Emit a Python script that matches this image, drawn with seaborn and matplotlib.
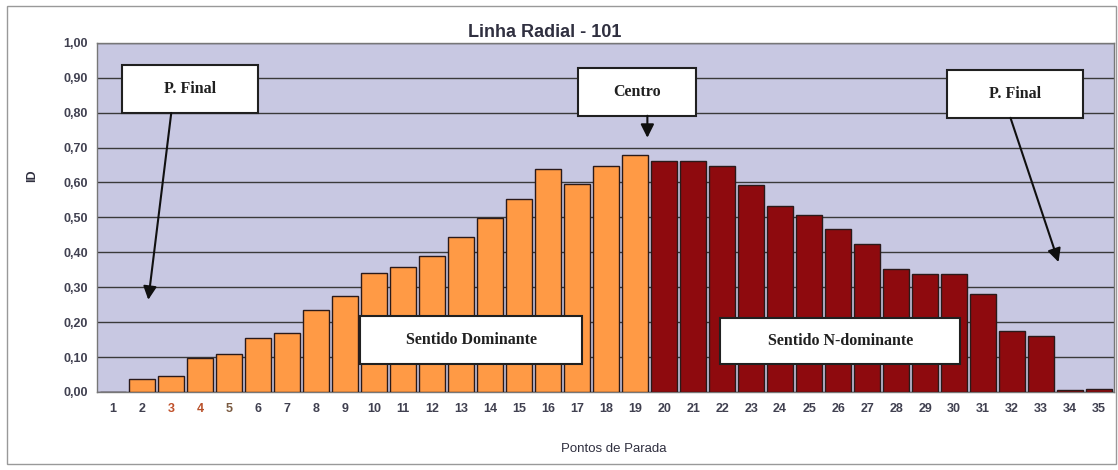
import matplotlib
matplotlib.use('Agg')
import matplotlib.pyplot as plt
import matplotlib.patches as patches
import pandas as pd
import seaborn as sns

# Pontos de parada e indice ID
pontos = [str(i) for i in range(1, 36)]
id_valores = [0.00, 0.036, 0.046, 0.098, 0.109, 0.155, 0.168, 0.235, 0.275, 0.341,
              0.358, 0.390, 0.445, 0.498, 0.552, 0.638, 0.597, 0.647, 0.678, 0.662,
              0.662, 0.647, 0.594, 0.533, 0.508, 0.466, 0.423, 0.352, 0.337, 0.337,
              0.281, 0.174, 0.159, 0.005, 0.009]
sentido = ['Dominante'] * 19 + ['N-dominante'] * 16
cores = {'Dominante': '#ff9a45', 'N-dominante': '#8e0a0e'}
y_ticks = [0.0, 0.1, 0.2, 0.3, 0.4, 0.5, 0.6, 0.7, 0.8, 0.9, 1.0]

df = pd.DataFrame({'Ponto': pontos, 'ID': id_valores, 'Sentido': sentido})

sns.set_style('white')
plt.rcParams['font.family'] = ['Liberation Sans', 'DejaVu Sans']

fig = plt.figure(figsize=(11.18, 4.70), dpi=100)
ax = fig.add_axes([0.087, 0.166, 0.909, 0.743])
ax.set_facecolor('#c8c8e2')

sns.barplot(data=df, x='Ponto', y='ID', hue='Sentido', order=pontos,
            palette=cores, saturation=1, dodge=False, width=0.9,
            edgecolor='#2a1a1a', linewidth=1.0, legend=False, ax=ax, zorder=3)

ax.set_ylim(0, 1.0)
ax.set_xlim(-0.55, 34.5)
ax.set_yticks(y_ticks)
ax.set_yticklabels([f'{v:.2f}'.replace('.', ',') for v in y_ticks],
                   fontsize=9, fontweight='bold', color='#404050')
ax.yaxis.grid(True, color='#3a3a3a', linewidth=1.0, zorder=0)
ax.set_axisbelow(True)
ax.tick_params(axis='x', labelsize=9, pad=8, length=0)
ax.tick_params(axis='y', length=3, color='#555555')
for lbl in ax.get_xticklabels():
    lbl.set_fontweight('bold')
    lbl.set_color('#404050')
cores_ticks = {'3': '#c0502a', '4': '#b8502a', '5': '#7a5a40'}
for lbl in ax.get_xticklabels():
    if lbl.get_text() in cores_ticks:
        lbl.set_color(cores_ticks[lbl.get_text()])

for s in ax.spines.values():
    s.set_color('#777777')
    s.set_linewidth(1.0)

ax.set_xlabel('Pontos de Parada', fontsize=9.5, color='#303040')
ax.xaxis.set_label_coords(0.508, -0.145)
ax.set_ylabel('ID', fontsize=9, fontweight='bold', color='#303040')
ax.yaxis.set_label_coords(-0.058, 0.62)

fig.text(0.4875, 0.93, 'Linha Radial - 101', ha='center', va='center',
         fontsize=13, fontweight='bold', color='#303040')

# caixas de texto
caixas = [
    ('P. Final', 0.0246, 0.799, 0.134, 0.138),
    ('Centro', 0.4734, 0.791, 0.116, 0.137),
    ('P. Final', 0.8366, 0.785, 0.133, 0.138),
    ('Sentido Dominante', 0.2589, 0.080, 0.2185, 0.138),
    ('Sentido N-dominante', 0.6132, 0.080, 0.2362, 0.132),
]
for texto, x0, y0, w, h in caixas:
    ax.add_patch(patches.Rectangle((x0, y0), w, h, transform=ax.transAxes,
                                   facecolor='white', edgecolor='#202020',
                                   linewidth=1.5, zorder=5))
    ax.text(x0 + w / 2, y0 + h / 2, texto, transform=ax.transAxes,
            ha='center', va='center', fontsize=11.5, fontweight='bold',
            family=['Liberation Serif', 'DejaVu Serif'], color='#202020', zorder=6)

# setas
setas = [((0.0728, 0.799), (0.0502, 0.264)),
         ((0.5413, 0.791), (0.5413, 0.728)),
         ((0.8986, 0.785), (0.9459, 0.372))]
for inicio, fim in setas:
    ax.annotate('', xy=fim, xytext=inicio, xycoords='axes fraction',
                textcoords='axes fraction',
                arrowprops=dict(arrowstyle='-|>', color='#101010', lw=1.5,
                                mutation_scale=20, shrinkA=0, shrinkB=0),
                zorder=6)

fig.patches.append(patches.Rectangle((0.006, 0.012), 0.992, 0.976,
                                     transform=fig.transFigure, fill=False,
                                     edgecolor='#999999', linewidth=1.0))

fig.savefig('out.png', dpi=100)
